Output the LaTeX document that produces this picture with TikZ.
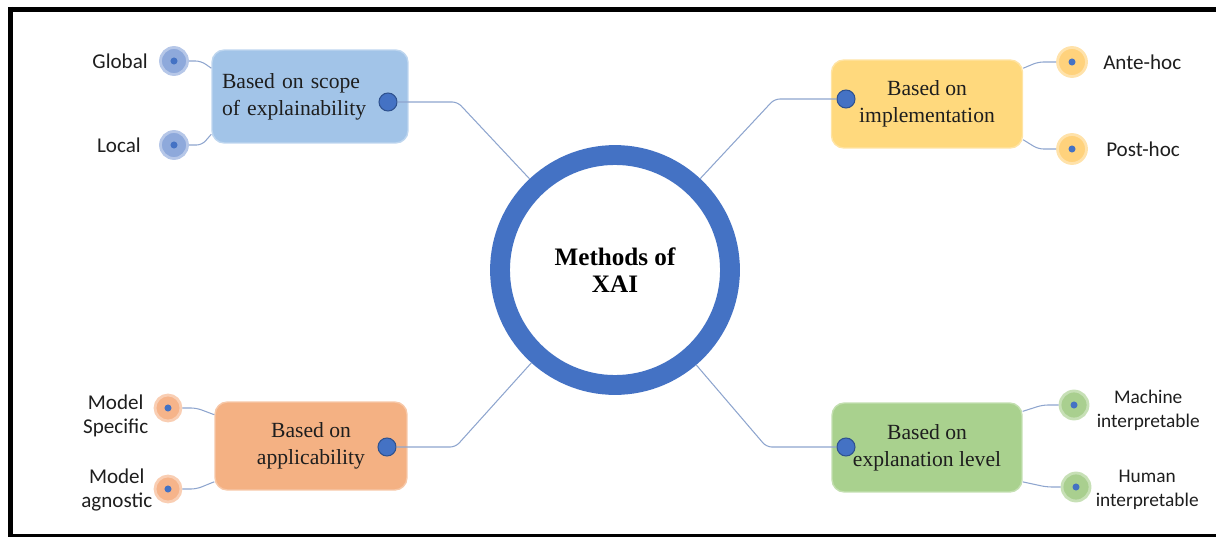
\documentclass[tikz,border=0pt]{standalone}
\usepackage{fontspec}
\setmainfont{Liberation Serif}
\newfontfamily\leaffont{Carlito}
\usetikzlibrary{positioning,calc}
\definecolor{ringblue}{HTML}{4472C4}
\definecolor{dotedge}{HTML}{2F528F}
\definecolor{wireblue}{HTML}{8EA5CE}
\definecolor{scopefill}{HTML}{A2C4E8}
\definecolor{scopeleaf}{HTML}{8EA9DB}
\definecolor{implfill}{HTML}{FFD97D}
\definecolor{implleaf}{HTML}{FFD27C}
\definecolor{applfill}{HTML}{F4B183}
\definecolor{applleaf}{HTML}{F6B48A}
\definecolor{explfill}{HTML}{A9D18E}
\definecolor{explleaf}{HTML}{A9CF8F}
\definecolor{ink}{HTML}{1E1E1E}

\begin{document}
\begin{tikzpicture}[x=0.02cm,y=-0.02cm,font=\fontsize{12.3}{15.2}\selectfont,
  catbox/.style={rounded corners=7pt,minimum width=3.84cm,minimum height=1.76cm,
                 align=center,text=ink,inner sep=0pt,line width=0.8pt},
  hub/.style={circle,fill=ringblue,draw=dotedge,line width=0.6pt,minimum size=0.36cm,inner sep=0pt},
  leaf/.style={circle,minimum size=0.54cm,inner sep=0pt,line width=1.6pt,fill=#1,draw=#1!65!white},
  lbl/.style={font=\leaffont\fontsize{12}{14}\selectfont,text=ink,align=center,inner sep=0pt},
  smalllbl/.style={lbl,font=\leaffont\fontsize{11}{13.6}\selectfont},
  wire/.style={draw=wireblue,line width=0.6pt,rounded corners=3pt}]
  \useasboundingbox (0,0) rectangle (1216,537);

  % frame
  \draw[line width=2.83pt] (8,9.5) -- (1216,9.5);
  \draw[line width=2.83pt] (10.5,7) -- (10.5,537);
  \draw[line width=1.4pt] (8,535.5) -- (1216,535.5);

  % centre
  \node[circle,draw=ringblue,line width=11.3pt,fill=white,minimum size=4.6cm,
        font=\bfseries\fontsize{14.3}{15.5}\selectfont,align=center] (xai) at (615,270) {Methods of\\XAI};

  % categories
  \node[catbox,fill=scopefill,draw=scopefill!70!white,minimum width=3.92cm,minimum height=1.86cm,
        align=left,text width=3.52cm] (scope) at (310,96.5) {Based on scope\\of explainability};
  \node[catbox,fill=implfill,draw=implfill!70!white,minimum width=3.82cm] (impl) at (927,104) {Based on\\implementation};
  \node[catbox,fill=applfill,draw=applfill!70!white] (appl) at (311,446) {Based on\\applicability};
  \node[catbox,fill=explfill,draw=explfill!70!white,minimum width=3.8cm,minimum height=1.78cm] (expl) at (927,447.5) {Based on\\explanation level};

  \node[hub] (scopehub) at (388,102) {};
  \node[hub] (implhub) at (846,99) {};
  \node[hub] (applhub) at (387,447) {};
  \node[hub] (explhub) at (846,447) {};

  % leaves
  \node[leaf=scopeleaf] (global) at (174,61) {};
  \node[leaf=scopeleaf] (local) at (174,145) {};
  \node[leaf=implleaf,minimum size=0.58cm] (ante) at (1072,62) {};
  \node[leaf=implleaf,minimum size=0.58cm] (post) at (1072,149) {};
  \node[leaf=applleaf,minimum size=0.52cm] (spec) at (168,408) {};
  \node[leaf=applleaf,minimum size=0.52cm] (agn) at (168,489) {};
  \node[leaf=explleaf,minimum size=0.56cm] (mach) at (1074,405) {};
  \node[leaf=explleaf,minimum size=0.56cm] (hum) at (1076,487) {};
  \foreach \n in {global,local,ante,post,spec,agn,mach,hum}
    \fill[ringblue] (\n) circle (2pt);

  \node[lbl,left=0.22cm of global] (globaltxt) {Global};
  \node[lbl,left=0.36cm of local] (localtxt) {Local};
  \node[lbl,right=0.3cm of ante] (antetxt) {Ante-hoc};
  \node[lbl,right=0.36cm of post] (posttxt) {Post-hoc};
  \node[lbl,left=0.1cm of spec,yshift=-0.16cm] (spectxt) {Model\\Specific};
  \node[lbl,left=0.02cm of agn,yshift=-0.02cm] (agntxt) {Model\\agnostic};
  \node[smalllbl,right=0.14cm of mach,yshift=-0.1cm] (machtxt) {Machine\\interpretable};
  \node[smalllbl,right=0.08cm of hum,yshift=-0.06cm] (humtxt) {Human\\interpretable};

  % connectors
  \draw[wire] (scopehub.east) -- ++(60,0) -- (xai);
  \draw[wire] (implhub.west) -- ++(-62,0) -- (xai);
  \draw[wire] (applhub.east) -- ++(59,0) -- (xai);
  \draw[wire] (explhub.west) -- ++(-70,0) -- (xai);

  \draw[wire] (global.east) -- ++(12,0) -- ($(scope.north west)!0.2!(scope.south west)$);
  \draw[wire] (local.east) -- ++(13,0) -- ($(scope.north west)!0.9!(scope.south west)$);
  \draw[wire] (ante.west) -- ++(-18,0) -- ($(impl.north east)!0.1!(impl.south east)$);
  \draw[wire] (post.west) -- ++(-18,0) -- ($(impl.north east)!0.9!(impl.south east)$);
  \draw[wire] (spec.east) -- ++(14,0) -- ($(appl.north west)!0.15!(appl.south west)$);
  \draw[wire] (agn.east) -- ++(14,0) -- ($(appl.north west)!0.9!(appl.south west)$);
  \draw[wire] (mach.west) -- ++(-16,0) -- ($(expl.north east)!0.1!(expl.south east)$);
  \draw[wire] (hum.west) -- ++(-14,0) -- ($(expl.north east)!0.88!(expl.south east)$);
\end{tikzpicture}
\end{document}
